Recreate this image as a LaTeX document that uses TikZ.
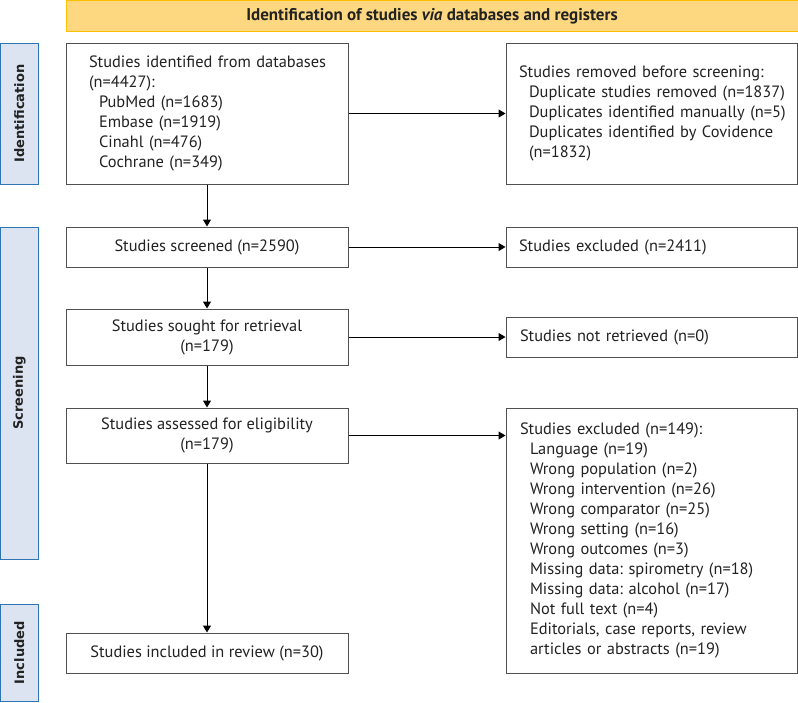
\documentclass[tikz,border=0pt]{standalone}
\usepackage{fontspec}
\setmainfont{PT Sans}
\newfontfamily\sidefont{DejaVu Sans}
\usetikzlibrary{arrows.meta}
\definecolor{hdrfill}{RGB}{253,216,128}
\definecolor{hdrline}{RGB}{255,192,0}
\definecolor{sidefill}{RGB}{221,228,241}
\definecolor{sideline}{RGB}{46,117,182}
\definecolor{boxline}{RGB}{80,80,80}
\definecolor{txt}{RGB}{34,34,34}
\frenchspacing
\begin{document}
\begin{tikzpicture}[x=1pt,y=-1pt,
  box/.style={draw=boxline, line width=1pt, fill=white, inner sep=0pt, text=txt,
    font=\fontsize{16.4}{20}\selectfont},
  lbox/.style={box, align=left},
  cbox/.style={box, align=center},
  side/.style={draw=sideline, fill=sidefill, line width=1pt, rotate=90, inner sep=0pt,
    font=\sidefont\bfseries\fontsize{13}{16}\selectfont, text=txt},
  hdr/.style={draw=hdrline, fill=hdrfill, line width=1pt, inner sep=0pt, text=txt,
    font=\bfseries\fontsize{17}{20}\selectfont},
  arr/.style={-{Triangle[length=7pt,width=8pt]}, line width=1pt, black}]
\useasboundingbox (0,0) rectangle (798,702);

% header
\node[hdr, minimum width=732pt, minimum height=31pt] (head) at (432,16)
  {Identification of studies \textit{via} databases and registers};

% side labels
\node[side, minimum width=141pt, minimum height=37.5pt] (sideid) at (19.25,113.5) {Identification};
\node[side, minimum width=332pt, minimum height=37.5pt] (sidesc) at (19.25,393) {Screening};
\node[side, minimum width=97.5pt, minimum height=37.5pt] (sidein) at (19.25,652.75) {Included};

% left column
\node[lbox, minimum width=282pt, minimum height=141pt, text width=236pt] (ident) at (207,113.5)
  {\begin{tabular}{@{}l@{}}
   Studies identified from databases\\
   (n=4427):\\
   \hspace*{10pt}PubMed (n=1683)\\
   \hspace*{10pt}Embase (n=1919)\\
   \hspace*{10pt}Cinahl (n=476)\\
   \hspace*{10pt}Cochrane (n=349)
   \end{tabular}};
\node[cbox, minimum width=282pt, minimum height=40pt] (screen) at (207,247)
  {Studies screened (n=2590)};
\node[cbox, minimum width=282pt, minimum height=56pt] (sought) at (207,337)
  {Studies sought for retrieval\\(n=179)};
\node[cbox, minimum width=282pt, minimum height=55pt] (assess) at (207,435.5)
  {Studies assessed for eligibility\\(n=179)};
\node[cbox, minimum width=282pt, minimum height=40pt] (incl) at (207,653)
  {Studies included in review (n=30)};

% right column
\node[lbox, minimum width=291pt, minimum height=141pt, text width=265pt] (removed) at (651.5,113.5)
  {\begin{tabular}{@{}l@{}}
   Studies removed before screening:\\
   \hspace*{10pt}Duplicate studies removed (n=1837)\\
   \hspace*{10pt}Duplicates identified manually (n=5)\\
   \hspace*{10pt}Duplicates identified by Covidence\\
   \hspace*{10pt}(n=1832)
   \end{tabular}};
\node[lbox, minimum width=291pt, minimum height=40pt, text width=265pt] (excl1) at (651.5,247)
  {Studies excluded (n=2411)};
\node[lbox, minimum width=291pt, minimum height=40pt, text width=263pt] (notret) at (651.5,337)
  {Studies not retrieved (n=0)};
\node[lbox, minimum width=291pt, minimum height=265pt, text width=263pt] (excl2) at (651.5,540.5)
  {\begin{tabular}{@{}l@{}}
   Studies excluded (n=149):\\
   \hspace*{10pt}Language (n=19)\\
   \hspace*{10pt}Wrong population (n=2)\\
   \hspace*{10pt}Wrong intervention (n=26)\\
   \hspace*{10pt}Wrong comparator (n=25)\\
   \hspace*{10pt}Wrong setting (n=16)\\
   \hspace*{10pt}Wrong outcomes (n=3)\\
   \hspace*{10pt}Missing data: spirometry (n=18)\\
   \hspace*{10pt}Missing data: alcohol (n=17)\\
   \hspace*{10pt}Not full text (n=4)\\
   \hspace*{10pt}Editorials, case reports, review\\
   \hspace*{10pt}articles or abstracts (n=19)
   \end{tabular}};

% connectors
\draw[arr] (ident) -- (screen);
\draw[arr] (screen) -- (sought);
\draw[arr] (sought) -- (assess);
\draw[arr] (assess) -- (incl);
\draw[arr] (ident.east) -- (removed.west);
\draw[arr] (screen.east) -- (excl1.west);
\draw[arr] (sought.east) -- (notret.west);
\draw[arr] (assess.east) -- (assess.east -| excl2.west);
\end{tikzpicture}
\end{document}
